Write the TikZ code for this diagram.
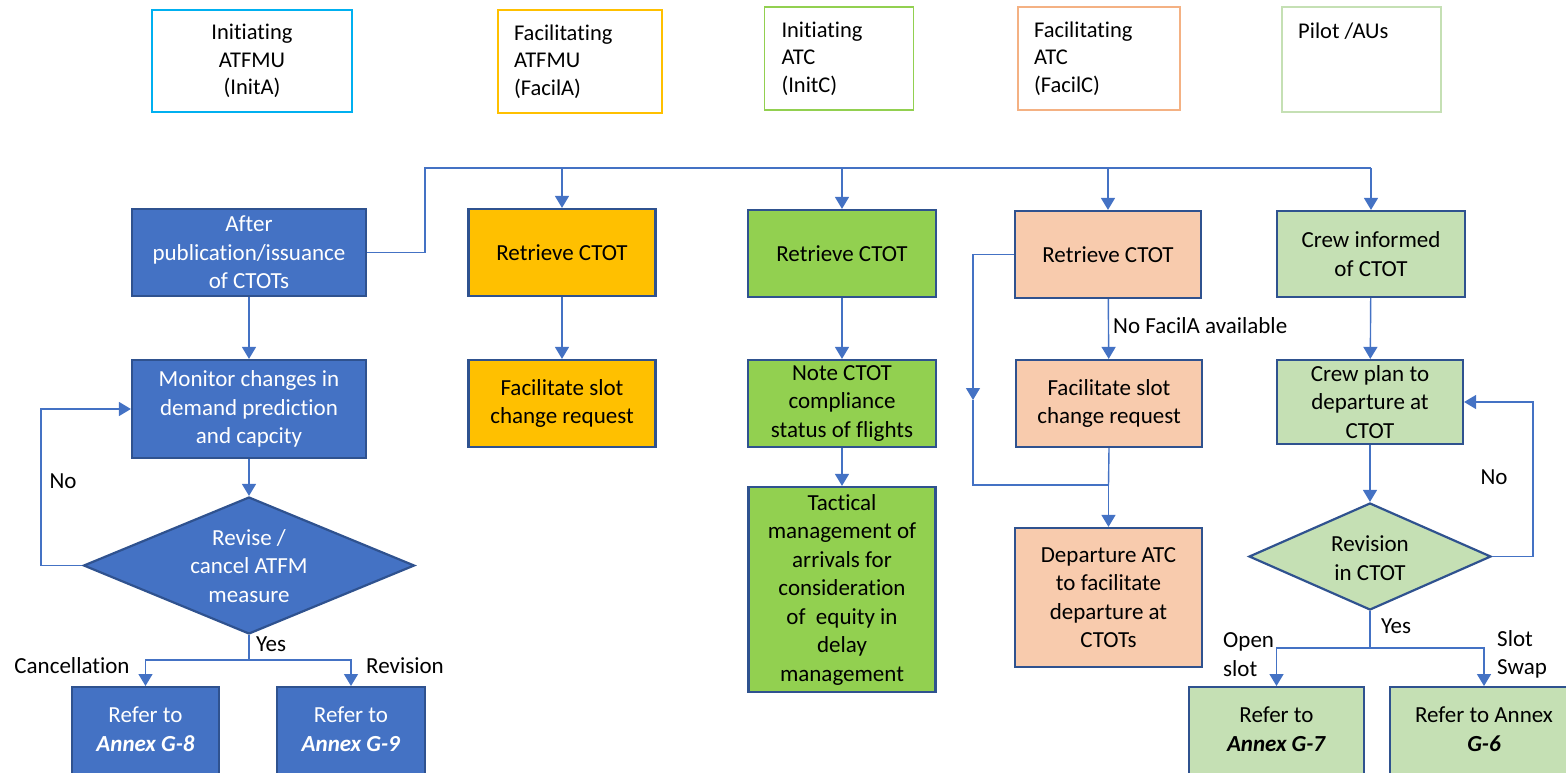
\documentclass[tikz,border=0pt]{standalone}
\usepackage{fontspec}
\setmainfont{Carlito}[Ligatures={NoCommon}]
\usetikzlibrary{arrows.meta,shapes.geometric}
\definecolor{linkc}{HTML}{4472C4}
\definecolor{bord}{HTML}{2F528F}
\definecolor{blueF}{HTML}{4472C4}
\definecolor{goldF}{HTML}{FFC000}
\definecolor{greenF}{HTML}{92D050}
\definecolor{peachF}{HTML}{F8CBAD}
\definecolor{lgreenF}{HTML}{C5E0B4}
\definecolor{cyanB}{HTML}{00B0F0}
\definecolor{peachB}{HTML}{F4B183}
\begin{document}
\begin{tikzpicture}[x=1pt,y=-1pt,
  every node/.style={font=\fontsize{23}{28.5}\selectfont},
  box/.style={draw=bord, line width=2.2pt, rectangle, align=center, inner sep=0pt},
  bbox/.style={box, fill=blueF, text=white},
  gbox/.style={box, fill=goldF},
  grbox/.style={box, fill=greenF},
  pbox/.style={box, fill=peachF},
  lbox/.style={box, fill=lgreenF},
  dia/.style={draw=bord, line width=2.2pt, diamond, align=center, inner sep=-25pt},
  wtxt/.style={align=center, inner sep=0pt, text=white},
  ktxt/.style={align=center, inner sep=0pt},
  lbl/.style={inner sep=0pt, align=left},
  legbox/.style={draw, line width=1.6pt, rectangle, inner sep=0pt,
     font=\fontsize{22.5}{27.5}\selectfont},
  link/.style={draw=linkc, line width=1.4pt},
  arr/.style={link, -{Triangle[width=14pt,length=12pt]}}
]
\useasboundingbox (0,0) rectangle (1566,772);

% ---------- legend ----------
\node[legbox, draw=cyanB, minimum width=200pt, minimum height=102pt, align=center]
  (legA) at (252,61) {Initiating\\ATFMU\\(InitA)};
\node[legbox, draw=goldF, minimum width=164pt, minimum height=103pt, align=left,
  text width=132pt, inner xsep=16pt] (legB) at (580,61.5) {Facilitating\\ATFMU\\(FacilA)};
\node[legbox, draw=greenF, minimum width=149pt, minimum height=103pt, align=left,
  text width=115pt, inner xsep=17pt] (legC) at (839,58.5) {Initiating\\ATC\\(InitC)};
\node[legbox, draw=peachB, minimum width=162pt, minimum height=103pt, align=left,
  text width=130pt, inner xsep=16pt] (legD) at (1099,58.5) {Facilitating\\ATC\\(FacilC)};
\node[legbox, draw=lgreenF, minimum width=159pt, minimum height=105pt] (legE) at (1361.5,59.5) {};
\node[lbl, anchor=west, font=\fontsize{22.5}{27.5}\selectfont] (legEt) at (1298,31) {Pilot /AUs};

% ---------- column 1 ----------
\node[bbox, minimum width=234pt, minimum height=87pt] (after) at (249,252.5) {After\\publication/issuance\\of CTOTs};
\node[bbox, minimum width=234pt, minimum height=98pt] (monitor) at (249,409) {Monitor changes in\\demand prediction\\and capcity};
\node[dia, fill=blueF, minimum width=331pt, minimum height=137pt] (revise) at (249,565.5) {};
\node[wtxt] (revt) at (249,566) {Revise /\\cancel ATFM\\measure};
\node[bbox, minimum width=147pt, minimum height=110pt, anchor=north] (g8) at (145.5,686) {};
\node[wtxt] (g8t) at (145.5,729) {Refer to\\\textbf{\textit{Annex G-8}}};
\node[bbox, minimum width=148pt, minimum height=110pt, anchor=north] (g9) at (351,686) {};
\node[wtxt] (g9t) at (351,729) {Refer to\\\textbf{\textit{Annex G-9}}};

\draw[arr] (after) -- (monitor);
\draw[arr] (monitor) -- (revise);
\coordinate (noL) at (41,565.5);
\draw[arr] (revise.west) -- (noL) |- (monitor.west);
\coordinate (yesL) at (249,660);
\draw[arr] (revise.south) -- (yesL) -| (g8.north);
\draw[arr] (yesL) -| (g9.north);
\node[lbl] (noLt) at (63,481) {No};
\node[lbl] (yesLt) at (271,644) {Yes};
\node[lbl] (cancT) at (72,666) {Cancellation};
\node[lbl] (revT) at (405,666) {Revision};

% ---------- bus ----------
\coordinate (busA) at (425,252.5);
\coordinate (busB) at (425,168);
\coordinate (busR) at (1371,168);
\draw[link] (after.east) -- (busA) -- (busB) -- (busR);

% ---------- column 2 ----------
\node[gbox, minimum width=187pt, minimum height=87pt] (gret) at (562,252.5) {Retrieve CTOT};
\node[gbox, minimum width=187pt, minimum height=87pt] (gfac) at (562,403.5) {Facilitate slot\\change request};
\draw[arr] (gret.north |- busB) -- (gret.north);
\draw[arr] (gret) -- (gfac);

% ---------- column 3 ----------
\node[grbox, minimum width=188pt, minimum height=87pt] (cret) at (842,253.5) {Retrieve CTOT};
\node[grbox, minimum width=188pt, minimum height=87pt] (cnote) at (842,403.5) {Note CTOT\\compliance\\status of flights};
\node[grbox, minimum width=187pt, minimum height=205pt] (ctac) at (842,589.5) {Tactical\\management of\\arrivals for\\consideration\\of~ equity in\\delay\\management};
\draw[arr] (cret.north |- busB) -- (cret.north);
\draw[arr] (cret) -- (cnote);
\draw[arr] (cnote) -- (ctac);

% ---------- column 4 ----------
\node[pbox, minimum width=186pt, minimum height=87pt] (pret) at (1108,254.5) {Retrieve CTOT};
\node[pbox, minimum width=186pt, minimum height=87pt] (pfac) at (1109,403.5) {Facilitate slot\\change request};
\node[pbox, minimum width=187pt, minimum height=139pt] (pdep) at (1108.5,597.5) {Departure ATC\\to facilitate\\departure at\\CTOTs};
\draw[arr] (pret.north |- busB) -- (pret.north);
\draw[arr] (pret) -- (pfac);
\node[lbl, anchor=west] (nofa) at (1113,326) {No FacilA available};
\coordinate (pl1) at (973,254.5);
\coordinate (pl2) at (973,400);
\coordinate (pl3) at (973,485);
\coordinate (pjoin) at (1108.5,485);
\draw[arr] (pret.west) -- (pl1) -- (pl2);
\draw[link] (pl2) -- (pl3) -- (pjoin);
\draw[link] (pfac.south) -- (pjoin);
\draw[arr] (pjoin) -- (pdep.north);

% ---------- column 5 ----------
\node[lbox, minimum width=188pt, minimum height=86pt] (lret) at (1371,254) {Crew informed\\of CTOT};
\node[lbox, minimum width=186pt, minimum height=84pt] (lplan) at (1370,402) {Crew plan to\\departure at\\CTOT};
\node[dia, fill=lgreenF, minimum width=242pt, minimum height=107pt] (lrev) at (1370,556.5) {};
\node[ktxt] (lrevt) at (1370,558) {Revision\\in CTOT};
\node[lbox, minimum width=175pt, minimum height=110pt, anchor=north] (g7) at (1276.5,686) {};
\node[ktxt] (g7t) at (1276.5,729) {Refer to\\\textbf{\textit{Annex G-7}}};
\node[lbox, minimum width=188pt, minimum height=110pt, anchor=north] (g6) at (1484,686) {};
\node[ktxt] (g6t) at (1484,729) {Refer to Annex\\\textbf{\textit{G-6}}};
\draw[arr] (lret.north |- busB) -- (lret.north);
\draw[arr] (lret) -- (lplan);
\draw[arr] (lplan) -- (lrev);
\coordinate (noR) at (1533,556.5);
\draw[arr] (lrev.east) -- (noR) |- (lplan.east);
\coordinate (yesR) at (1370,648);
\draw[arr] (lrev.south) -- (yesR) -| (g7.north);
\draw[arr] (yesR) -| (g6.north);
\node[lbl] (noRt) at (1494,477) {No};
\node[lbl] (yesRt) at (1396,626) {Yes};
\node[lbl, anchor=west] (opent) at (1223,654.5) {Open\\slot};
\node[lbl, anchor=west] (swapt) at (1497,654.5) {Slot\\Swap};
\end{tikzpicture}
\end{document}
